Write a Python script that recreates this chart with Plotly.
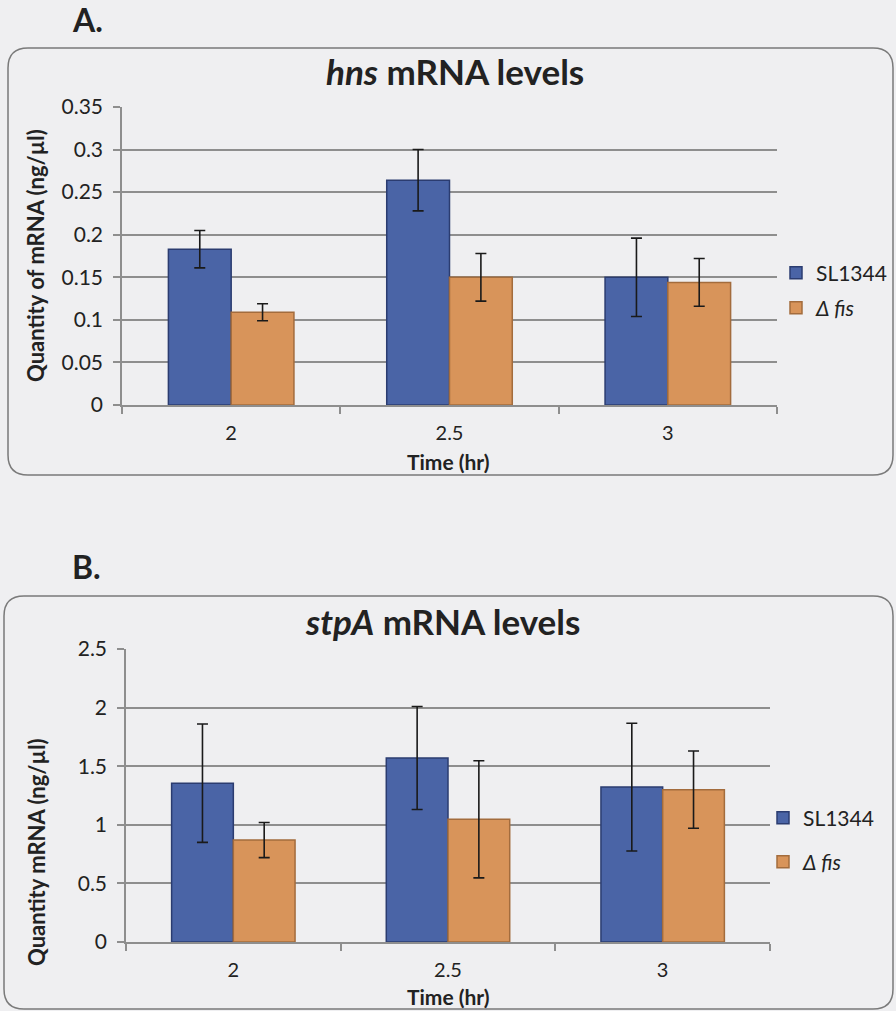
import plotly.graph_objects as go

# ---------------- data ----------------
times = ["2", "2.5", "3"]

hns_sl1344 = [0.183, 0.264, 0.150]
hns_sl1344_err = [0.022, 0.036, 0.046]
hns_fis = [0.109, 0.150, 0.144]
hns_fis_err = [0.010, 0.028, 0.028]

stpa_sl1344 = [1.355, 1.570, 1.322]
stpa_sl1344_err = [0.505, 0.440, 0.545]
stpa_fis = [0.870, 1.047, 1.300]
stpa_fis_err = [0.150, 0.500, 0.330]

series_names = ["SL1344", "<i>Δ fis</i>"]
y_ticks_a = [0, 0.05, 0.1, 0.15, 0.2, 0.25, 0.3, 0.35]
y_ticks_b = [0, 0.5, 1, 1.5, 2, 2.5]

# ---------------- style ----------------
W, H = 896, 1011
BG = "#efeff1"
BLUE = "#4a64a6"
BLUE_EDGE = "#2b3c70"
ORANGE = "#d8945a"
ORANGE_EDGE = "#a36c3d"
GRID = "#8e8e8e"
FONT = "Lato"


def px(x):
    return x / W


def py(y):
    return 1 - y / H


fig = go.Figure()

err_style = dict(type="data", color="#1a1a1a", thickness=1.6, width=5.5)
blue_marker = dict(color=BLUE, line=dict(color=BLUE_EDGE, width=1.5))
orange_marker = dict(color=ORANGE, line=dict(color=ORANGE_EDGE, width=1.5))

fig.add_trace(go.Bar(x=times, y=hns_sl1344, name=series_names[0], marker=blue_marker,
                     error_y=dict(array=hns_sl1344_err, **err_style), showlegend=True,
                     xaxis="x", yaxis="y", legend="legend"))
fig.add_trace(go.Bar(x=times, y=hns_fis, name=series_names[1], marker=orange_marker,
                     error_y=dict(array=hns_fis_err, **err_style), showlegend=True,
                     xaxis="x", yaxis="y", legend="legend2"))
fig.add_trace(go.Bar(x=times, y=stpa_sl1344, name=series_names[0], marker=blue_marker,
                     error_y=dict(array=stpa_sl1344_err, **err_style), showlegend=True,
                     xaxis="x2", yaxis="y2", legend="legend3"))
fig.add_trace(go.Bar(x=times, y=stpa_fis, name=series_names[1], marker=orange_marker,
                     error_y=dict(array=stpa_fis_err, **err_style), showlegend=True,
                     xaxis="x2", yaxis="y2", legend="legend4"))

xaxis_common = dict(type="category", showline=True, linecolor=GRID, linewidth=1.5,
                    ticks="outside", tickson="boundaries", ticklen=7, tickcolor=GRID,
                    tickwidth=1.5, showgrid=False, zeroline=False, automargin=False,
                    tickfont=dict(family=FONT, size=20, color="#222"),
                    ticklabelstandoff=9)
yaxis_common = dict(showline=True, linecolor=GRID, linewidth=1.5, ticks="outside",
                    ticklen=7, tickcolor=GRID, tickwidth=1.5, showgrid=True,
                    gridcolor=GRID, gridwidth=1.8, zeroline=False, automargin=False,
                    tickfont=dict(family=FONT, size=21, color="#222"),
                    ticklabelstandoff=6)


def legend_at(x, y):
    return dict(x=px(x), y=py(y), xanchor="left", yanchor="middle",
                bgcolor="rgba(0,0,0,0)", borderwidth=0, visible=True,
                font=dict(family=FONT, size=21, color="#222"))


fig.update_layout(
    width=W, height=H,
    showlegend=True,
    margin=dict(l=0, r=0, t=0, b=0, autoexpand=False),
    paper_bgcolor=BG, plot_bgcolor=BG,
    barmode="group", bargap=0.425, bargroupgap=0,
    font=dict(family=FONT, color="#222"),
    xaxis=dict(domain=[px(122), px(777)], anchor="y", **xaxis_common),
    yaxis=dict(domain=[py(405), py(107)], anchor="x", range=[0, 0.35],
               tickvals=y_ticks_a, **yaxis_common),
    xaxis2=dict(domain=[px(126), px(770)], anchor="y2", **xaxis_common),
    yaxis2=dict(domain=[py(942), py(649)], anchor="x2", range=[0, 2.5],
                tickvals=y_ticks_b, **yaxis_common),
    legend=legend_at(776, 273),
    legend2=legend_at(776, 308),
    legend3=legend_at(763, 818),
    legend4=legend_at(763, 862),
)


def rounded_box(x0, y0, x1, y1, r):
    rx, ry = r / W, r / H
    X0, X1 = px(x0), px(x1)
    Y0, Y1 = py(y0), py(y1)
    return (f"M {X0 + rx},{Y0} L {X1 - rx},{Y0} Q {X1},{Y0} {X1},{Y0 - ry} "
            f"L {X1},{Y1 + ry} Q {X1},{Y1} {X1 - rx},{Y1} "
            f"L {X0 + rx},{Y1} Q {X0},{Y1} {X0},{Y1 + ry} "
            f"L {X0},{Y0 - ry} Q {X0},{Y0} {X0 + rx},{Y0} Z")


fig.add_shape(type="path", xref="paper", yref="paper",
              path=rounded_box(8, 48, 893, 475, 20),
              line=dict(color="#7a7a7a", width=1.5), layer="below")
fig.add_shape(type="path", xref="paper", yref="paper",
              path=rounded_box(4, 596, 893, 1009, 20),
              line=dict(color="#7a7a7a", width=1.5), layer="below")

ann = []
ann.append(dict(text="<b>A.</b>", x=px(70), y=py(20), xanchor="left", yanchor="middle",
                font=dict(size=32)))
ann.append(dict(text="<b>B.</b>", x=px(70), y=py(566), xanchor="left", yanchor="middle",
                font=dict(size=32)))
ann.append(dict(text="<b><i>hns</i> mRNA levels</b>", x=px(455), y=py(71),
                xanchor="center", yanchor="middle", font=dict(size=35)))
ann.append(dict(text="<b><i>stpA</i> mRNA levels</b>", x=px(442), y=py(621),
                xanchor="center", yanchor="middle", font=dict(size=35)))
ann.append(dict(text="<b>Quantity of mRNA (ng/µl)</b>", x=px(36), y=py(256),
                xanchor="center", yanchor="middle", textangle=-90, font=dict(size=22)))
ann.append(dict(text="<b>Quantity mRNA (ng/µl)</b>", x=px(36), y=py(852),
                xanchor="center", yanchor="middle", textangle=-90, font=dict(size=22)))
ann.append(dict(text="<b>Time (hr)</b>", x=px(448), y=py(461),
                xanchor="center", yanchor="middle", font=dict(size=21)))
ann.append(dict(text="<b>Time (hr)</b>", x=px(448), y=py(996),
                xanchor="center", yanchor="middle", font=dict(size=21)))
for a in ann:
    a.update(xref="paper", yref="paper", showarrow=False)
    a["font"].update(family=FONT, color="#222")
fig.update_layout(annotations=ann)

fig.write_html("out.html")
